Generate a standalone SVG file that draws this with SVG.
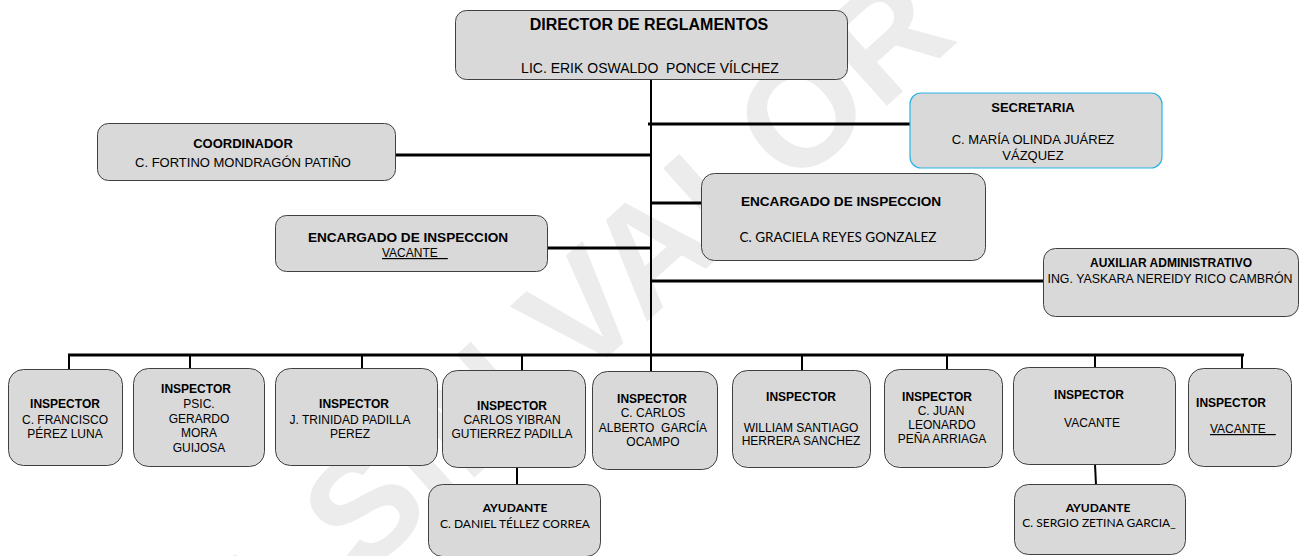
<svg xmlns="http://www.w3.org/2000/svg" width="1299" height="556" viewBox="0 0 1299 556">
<style>
.box{fill:#d9d9d9;stroke:#404040;stroke-width:1}
.sec{fill:#d9d9d9;stroke:#29b4e6;stroke-width:1.2}
.t{font-family:"Liberation Sans",Arial,sans-serif;fill:#000;text-anchor:middle}
.s{font-family:"Liberation Sans",Arial,sans-serif;fill:#000;text-anchor:start;text-decoration:underline}
.b{font-weight:bold}
.c{font-family:Lato,"Liberation Sans",sans-serif;fill:#000;text-anchor:middle}
.thick{stroke:#000;stroke-width:3;fill:none}
.thin{stroke:#000;stroke-width:2;fill:none}
.wm{font-family:"Liberation Sans",Arial,sans-serif;font-weight:bold;fill:#ececec}
</style>
<rect width="1299" height="556" fill="#fff"/>
<text class="wm" font-size="150" text-anchor="end" transform="translate(960,40) rotate(-42)">COPIA SIN VALOR</text>
<g id="connectors">
<line class="thin" x1="651" y1="80" x2="651" y2="356"/>
<line class="thick" x1="648" y1="124" x2="910" y2="124"/>
<line class="thick" x1="396" y1="155" x2="651" y2="155"/>
<line class="thick" x1="651" y1="203" x2="702" y2="203"/>
<line class="thick" x1="547" y1="248" x2="651" y2="248"/>
<line class="thick" x1="651" y1="281" x2="1043" y2="281"/>
<line class="thick" x1="68" y1="355" x2="1244" y2="355"/>
<line class="thin" x1="69" y1="355" x2="69" y2="369"/>
<line class="thin" x1="190" y1="355" x2="190" y2="368"/>
<line class="thin" x1="362" y1="355" x2="362" y2="368"/>
<line class="thin" x1="522" y1="355" x2="522" y2="370"/>
<line class="thin" x1="651" y1="355" x2="651" y2="371"/>
<line class="thin" x1="802" y1="355" x2="802" y2="370"/>
<line class="thin" x1="947" y1="355" x2="947" y2="369"/>
<line class="thin" x1="1095" y1="355" x2="1095" y2="367"/>
<line class="thin" x1="1242" y1="355" x2="1242" y2="368"/>
<line class="thin" x1="517" y1="467" x2="517" y2="485"/>
<line class="thin" x1="1095" y1="464" x2="1096" y2="485"/>
</g>
<g id="director">
<rect class="box" x="455.5" y="10.5" width="392" height="69" rx="11"/>
<text class="t b" x="649" y="30" font-size="16">DIRECTOR DE REGLAMENTOS</text>
<text class="t" x="650" y="73" font-size="14" xml:space="preserve">LIC. ERIK OSWALDO  PONCE VÍLCHEZ</text>
</g>
<g id="secretaria">
<rect class="sec" x="910" y="93" width="252" height="75" rx="11"/>
<text class="t b" x="1033" y="112" font-size="13">SECRETARIA</text>
<text class="t" x="1033" y="144" font-size="13">C. MARÍA OLINDA JUÁREZ</text>
<text class="t" x="1033" y="160" font-size="13">VÁZQUEZ</text>
</g>
<g id="coordinador">
<rect class="box" x="97.5" y="123.5" width="298" height="57" rx="11"/>
<text class="t b" x="243" y="148" font-size="13">COORDINADOR</text>
<text class="t" x="243" y="167" font-size="13">C. FORTINO MONDRAGÓN PATIÑO</text>
</g>
<g id="encargado-graciela">
<rect class="box" x="701.5" y="173.5" width="284" height="87" rx="13"/>
<text class="t b" x="841" y="206" font-size="13.6">ENCARGADO DE INSPECCION</text>
<text class="c" x="838" y="242" font-size="13.5">C. GRACIELA REYES GONZALEZ</text>
</g>
<g id="encargado-vacante">
<rect class="box" x="275.5" y="215.5" width="272" height="56" rx="11"/>
<text class="t b" x="408" y="242" font-size="13.6">ENCARGADO DE INSPECCION</text>
<text class="s" x="382" y="257" font-size="12">VACANTE&#160;&#160;&#160;</text>
</g>
<g id="auxiliar">
<rect class="box" x="1043.5" y="248.5" width="255" height="68" rx="12"/>
<text class="t b" x="1171" y="267" font-size="12">AUXILIAR ADMINISTRATIVO</text>
<text class="t" x="1170" y="283" font-size="12.4">ING. YASKARA NEREIDY RICO CAMBRÓN</text>
</g>
<g id="insp1">
<rect class="box" x="8.5" y="369.5" width="114" height="96" rx="15"/>
<text class="t b" x="65" y="408" font-size="12">INSPECTOR</text>
<text class="t" x="65" y="424" font-size="12">C. FRANCISCO</text>
<text class="t" x="65" y="438" font-size="12">PÉREZ LUNA</text>
</g>
<g id="insp2">
<rect class="box" x="133.5" y="368.5" width="131" height="98" rx="15"/>
<text class="t b" x="196" y="393" font-size="12">INSPECTOR</text>
<text class="t" x="199" y="408" font-size="12">PSIC.</text>
<text class="t" x="199" y="423" font-size="12">GERARDO</text>
<text class="t" x="199" y="437" font-size="12">MORA</text>
<text class="t" x="199" y="452" font-size="12">GUIJOSA</text>
</g>
<g id="insp3">
<rect class="box" x="275.5" y="368.5" width="162" height="97" rx="15"/>
<text class="t b" x="354" y="408" font-size="12">INSPECTOR</text>
<text class="t" x="350" y="424" font-size="12">J. TRINIDAD PADILLA</text>
<text class="t" x="350" y="438" font-size="12">PEREZ</text>
</g>
<g id="insp4">
<rect class="box" x="442.5" y="370.5" width="143" height="97" rx="15"/>
<text class="t b" x="512" y="410" font-size="12">INSPECTOR</text>
<text class="t" x="512" y="424" font-size="12">CARLOS YIBRAN</text>
<text class="t" x="512" y="438" font-size="12">GUTIERREZ PADILLA</text>
</g>
<g id="insp5">
<rect class="box" x="592.5" y="371.5" width="125" height="98" rx="15"/>
<text class="t b" x="652" y="403" font-size="12">INSPECTOR</text>
<text class="t" x="653" y="417" font-size="12">C. CARLOS</text>
<text class="t" x="653" y="432" font-size="12" xml:space="preserve">ALBERTO  GARCÍA</text>
<text class="t" x="653" y="446" font-size="12">OCAMPO</text>
</g>
<g id="insp6">
<rect class="box" x="732.5" y="370.5" width="138" height="97" rx="15"/>
<text class="t b" x="801" y="401" font-size="12">INSPECTOR</text>
<text class="t" x="801" y="432" font-size="12">WILLIAM SANTIAGO</text>
<text class="t" x="801" y="445" font-size="12">HERRERA SANCHEZ</text>
</g>
<g id="insp7">
<rect class="box" x="884.5" y="369.5" width="118" height="98" rx="15"/>
<text class="t b" x="937" y="401" font-size="12">INSPECTOR</text>
<text class="t" x="941" y="415" font-size="12">C. JUAN</text>
<text class="t" x="942" y="429" font-size="12">LEONARDO</text>
<text class="t" x="942" y="443" font-size="12">PEÑA ARRIAGA</text>
</g>
<g id="insp8">
<rect class="box" x="1013.5" y="367.5" width="162" height="97" rx="15"/>
<text class="t b" x="1089" y="399" font-size="12">INSPECTOR</text>
<text class="t" x="1092" y="427" font-size="12">VACANTE</text>
</g>
<g id="insp9">
<rect class="box" x="1188.5" y="368.5" width="103" height="98" rx="15"/>
<text class="t b" x="1231" y="407" font-size="12">INSPECTOR</text>
<text class="s" x="1210" y="433" font-size="12">VACANTE&#160;&#160;&#160;</text>
</g>
<g id="ayudante1">
<rect class="box" x="428.5" y="484.5" width="172" height="72" rx="14"/>
<text class="c b" x="515" y="512" font-size="12">AYUDANTE</text>
<text class="c" x="515" y="528" font-size="12">C. DANIEL TÉLLEZ CORREA</text>
</g>
<g id="ayudante2">
<rect class="box" x="1014.5" y="484.5" width="171" height="70" rx="14"/>
<text class="c b" x="1098" y="512" font-size="12">AYUDANTE</text>
<text class="c" x="1099" y="527" font-size="12">C. SERGIO ZETINA GARCIA_</text>
</g>
</svg>
